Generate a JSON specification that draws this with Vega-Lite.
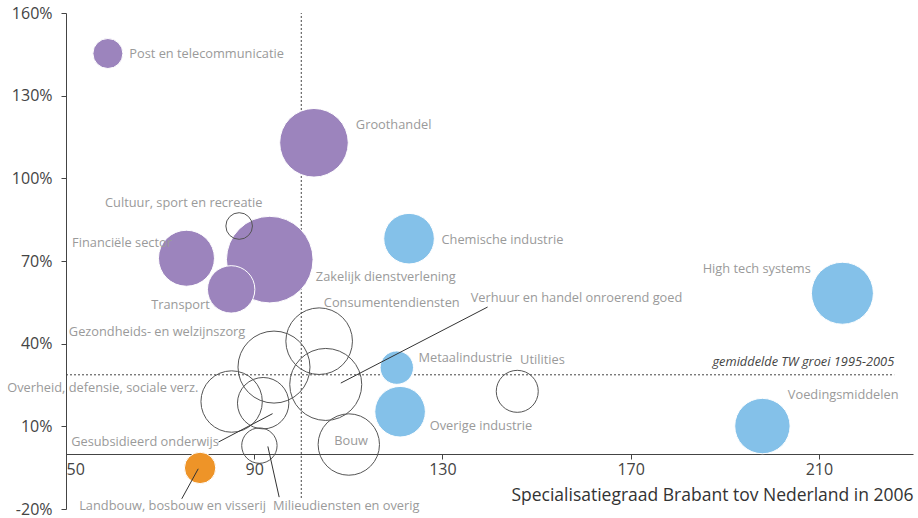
{
  "$schema": "https://vega.github.io/schema/vega-lite/v6.json",
  "width": 847,
  "height": 496,
  "autosize": "none",
  "padding": {"left": 66, "top": 13, "right": 5, "bottom": 9},
  "background": "white",
  "config": {"view": {"stroke": null}, "font": "Open Sans"},
  "datasets": {
    "sectoren": [
      {"sector": "Zakelijk dienstverlening", "spec": 93.3, "groei": 70.5, "omvang": 1875, "groep": "diensten"},
      {"sector": "Groothandel", "spec": 102.7, "groei": 112.9, "omvang": 1176, "groep": "diensten"},
      {"sector": "Financiële sector", "spec": 75.6, "groei": 71.0, "omvang": 784, "groep": "diensten"},
      {"sector": "Transport", "spec": 85.1, "groei": 59.7, "omvang": 562, "groep": "diensten"},
      {"sector": "Post en telecommunicatie", "spec": 58.9, "groei": 145.3, "omvang": 225, "groep": "diensten"},
      {"sector": "High tech systems", "spec": 215.0, "groei": 58.3, "omvang": 961, "groep": "industrie"},
      {"sector": "Voedingsmiddelen", "spec": 198.0, "groei": 10.1, "omvang": 767, "groep": "industrie"},
      {"sector": "Chemische industrie", "spec": 122.9, "groei": 78.1, "omvang": 640, "groep": "industrie"},
      {"sector": "Overige industrie", "spec": 121.0, "groei": 15.3, "omvang": 640, "groep": "industrie"},
      {"sector": "Metaalindustrie", "spec": 120.3, "groei": 31.3, "omvang": 279, "groep": "industrie"},
      {"sector": "Landbouw, bosbouw en visserij", "spec": 78.5, "groei": -5.1, "omvang": 246, "groep": "landbouw"},
      {"sector": "Cultuur, sport en recreatie", "spec": 86.8, "groei": 82.7, "omvang": 177, "groep": "overig"},
      {"sector": "Consumentendiensten", "spec": 103.8, "groei": 40.9, "omvang": 1109, "groep": "overig"},
      {"sector": "Gezondheids- en welzijnszorg", "spec": 94.2, "groei": 31.5, "omvang": 1296, "groep": "overig"},
      {"sector": "Verhuur en handel onroerend goed", "spec": 105.2, "groei": 25.2, "omvang": 1296, "groep": "overig"},
      {"sector": "Overheid, defensie, sociale verz.", "spec": 85.2, "groei": 19.0, "omvang": 942, "groep": "overig"},
      {"sector": "Gesubsidieerd onderwijs", "spec": 91.9, "groei": 18.4, "omvang": 660, "groep": "overig"},
      {"sector": "Utilities", "spec": 145.9, "groei": 22.7, "omvang": 441, "groep": "overig"},
      {"sector": "Bouw", "spec": 110.1, "groei": 3.4, "omvang": 942, "groep": "overig"},
      {"sector": "Milieudiensten en overig", "spec": 91.1, "groei": 3.0, "omvang": 313, "groep": "overig"}
    ],
    "labels": [
      {"tekst": "Post en telecommunicatie", "lx": 63.45, "ly": 145.2},
      {"tekst": "Groothandel", "lx": 111.6, "ly": 119.3},
      {"tekst": "Cultuur, sport en recreatie", "lx": 58.3, "ly": 90.9},
      {"tekst": "Financiële sector", "lx": 51.3, "ly": 76.7},
      {"tekst": "Zakelijk dienstverlening", "lx": 103.1, "ly": 64.2},
      {"tekst": "Transport", "lx": 68.1, "ly": 53.9},
      {"tekst": "Chemische industrie", "lx": 129.8, "ly": 77.5},
      {"tekst": "High tech systems", "lx": 185.3, "ly": 67.2},
      {"tekst": "Consumentendiensten", "lx": 104.8, "ly": 54.7},
      {"tekst": "Verhuur en handel onroerend goed", "lx": 136.0, "ly": 56.7},
      {"tekst": "Gezondheids- en welzijnszorg", "lx": 50.6, "ly": 44.1},
      {"tekst": "Metaalindustrie", "lx": 124.9, "ly": 34.9},
      {"tekst": "Utilities", "lx": 146.5, "ly": 33.9},
      {"tekst": "Overheid, defensie, sociale verz.", "lx": 37.5, "ly": 23.8},
      {"tekst": "Voedingsmiddelen", "lx": 203.4, "ly": 21.2},
      {"tekst": "Gesubsidieerd onderwijs", "lx": 51.1, "ly": 4.3},
      {"tekst": "Overige industrie", "lx": 127.3, "ly": 10.3},
      {"tekst": "Bouw", "lx": 107.0, "ly": 4.5},
      {"tekst": "Landbouw, bosbouw en visserij", "lx": 52.8, "ly": -18.9},
      {"tekst": "Milieudiensten en overig", "lx": 94.0, "ly": -18.9}
    ],
    "leaders": [
      {"x1": 108.4, "y1": 25.7, "x2": 139.6, "y2": 53.3},
      {"x1": 82.4, "y1": 4.3, "x2": 93.9, "y2": 14.6},
      {"x1": 74.6, "y1": -16.3, "x2": 78.1, "y2": -5.4},
      {"x1": 95.3, "y1": -15.7, "x2": 92.9, "y2": 2.7}
    ],
    "refs": [
      {"x1": 100, "y1": -16, "x2": 100, "y2": 160},
      {"x1": 50, "y1": 28.7, "x2": 226, "y2": 28.7}
    ],
    "avg": [{"tekst": "gemiddelde TW groei 1995-2005", "x": 226, "y": 33.5}]
  },
  "layer": [
    {
      "data": {"name": "refs"},
      "mark": {"type": "rule", "stroke": "#444", "strokeWidth": 1, "strokeDash": [2, 2]},
      "encoding": {
        "x": {"field": "x1", "type": "quantitative", "scale": {"domain": [50, 230], "nice": false, "zero": false}, "axis": {"values": [50, 90, 130, 170, 210], "offset": -55, "grid": false, "domainColor": "#444", "tickColor": "#444", "tickSize": 5, "labelFontSize": 16, "labelColor": "#444", "labelPadding": 2, "labelFont": "Open Sans", "title": "Specialisatiegraad Brabant tov Nederland in 2006", "titleFontSize": 17.5, "titleFontWeight": "normal", "titleColor": "#333", "titleAnchor": "end", "titlePadding": 9, "titleFont": "Open Sans"}},
        "y": {"field": "y1", "type": "quantitative", "scale": {"domain": [-20, 160], "nice": false, "zero": false}, "axis": {"values": [-20, 10, 40, 70, 100, 130, 160], "labelExpr": "datum.value + '%'", "grid": false, "domainColor": "#444", "tickColor": "#444", "tickSize": 5, "labelFontSize": 16, "labelColor": "#444", "labelPadding": 9, "labelFont": "Open Sans", "title": null}},
        "x2": {"field": "x2"},
        "y2": {"field": "y2"}
      }
    },
    {
      "data": {"name": "sectoren"},
      "transform": [{"filter": "datum.groep != 'overig'"}],
      "mark": {"type": "circle", "opacity": 1, "stroke": "white", "strokeWidth": 1},
      "encoding": {
        "x": {"field": "spec", "type": "quantitative"},
        "y": {"field": "groei", "type": "quantitative"},
        "size": {"field": "omvang", "type": "quantitative", "scale": {"type": "linear", "domain": [0, 2025], "range": [0, 8100], "zero": true}, "legend": null},
        "color": {"field": "groep", "type": "nominal", "scale": {"domain": ["diensten", "industrie", "landbouw"], "range": ["#9c84bd", "#84c1e9", "#ee9428"]}, "legend": null},
        "order": {"field": "omvang", "sort": "descending"}
      }
    },
    {
      "data": {"name": "sectoren"},
      "transform": [{"filter": "datum.groep == 'overig'"}],
      "mark": {"type": "circle", "filled": false, "opacity": 1, "stroke": "#555", "strokeWidth": 1},
      "encoding": {
        "x": {"field": "spec", "type": "quantitative"},
        "y": {"field": "groei", "type": "quantitative"},
        "size": {"field": "omvang", "type": "quantitative", "scale": {"type": "linear", "domain": [0, 2025], "range": [0, 8100], "zero": true}, "legend": null}
      }
    },
    {
      "data": {"name": "leaders"},
      "mark": {"type": "rule", "stroke": "#333", "strokeWidth": 1},
      "encoding": {
        "x": {"field": "x1", "type": "quantitative"},
        "y": {"field": "y1", "type": "quantitative"},
        "x2": {"field": "x2"},
        "y2": {"field": "y2"}
      }
    },
    {
      "data": {"name": "labels"},
      "mark": {"type": "text", "align": "left", "baseline": "middle", "fontSize": 12.8, "color": "#9a9a9a", "font": "Open Sans"},
      "encoding": {
        "x": {"field": "lx", "type": "quantitative"},
        "y": {"field": "ly", "type": "quantitative"},
        "text": {"field": "tekst"}
      }
    },
    {
      "data": {"name": "avg"},
      "mark": {"type": "text", "align": "right", "baseline": "middle", "fontSize": 12.8, "fontStyle": "italic", "color": "#444", "font": "Open Sans"},
      "encoding": {
        "x": {"field": "x", "type": "quantitative"},
        "y": {"field": "y", "type": "quantitative"},
        "text": {"field": "tekst"}
      }
    }
  ]
}
